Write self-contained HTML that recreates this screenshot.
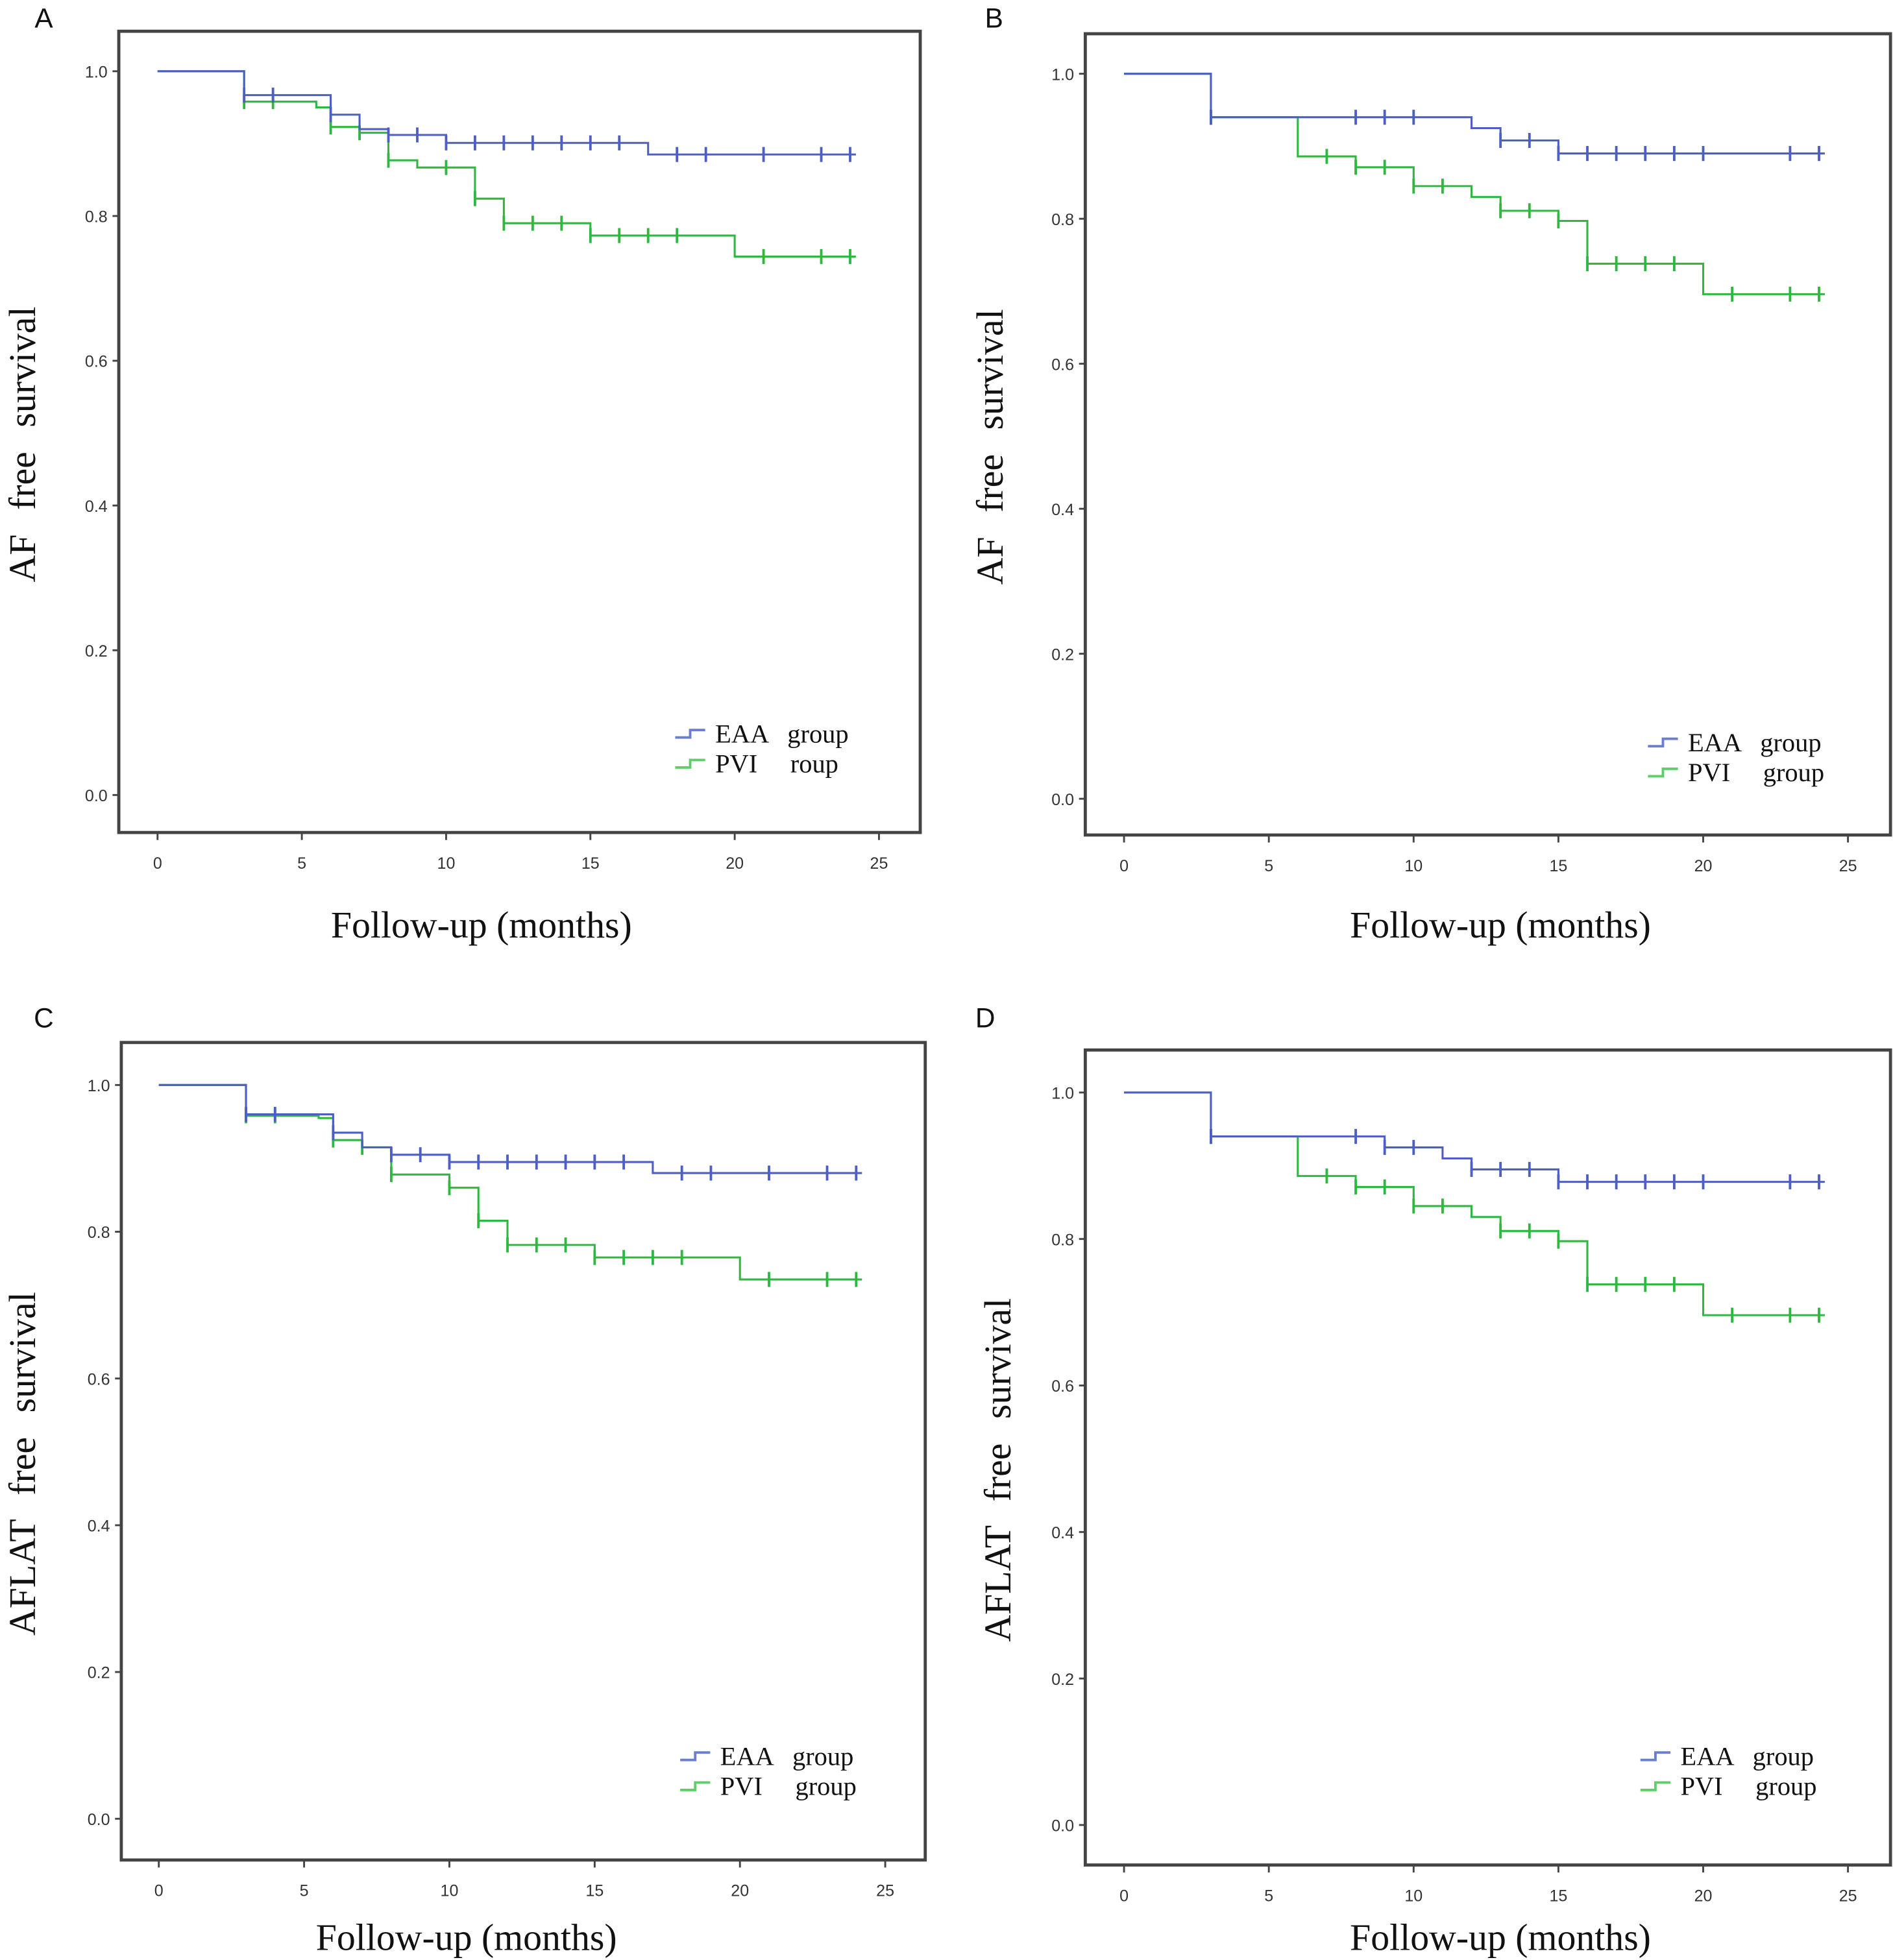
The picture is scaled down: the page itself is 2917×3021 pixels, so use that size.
<!DOCTYPE html>
<html><head><meta charset="utf-8">
<style>
html,body{margin:0;padding:0;background:#fff;}
svg{display:block;}
.tick{font-family:"Liberation Sans",sans-serif;font-size:13px;fill:#333;}
.lab{font-family:"Liberation Serif",serif;font-size:30px;fill:#111;}
.ylab{font-family:"Liberation Serif",serif;font-size:30px;fill:#111;word-spacing:12px;}
.leg{font-family:"Liberation Serif",serif;font-size:21px;fill:#111;}
.pl{font-family:"Liberation Sans",sans-serif;font-size:22px;fill:#111;}
</style></head>
<body>
<svg id="fig" width="2917" height="3021" viewBox="0 0 1514 1568" xmlns="http://www.w3.org/2000/svg"></svg>
<script>
// ---- data ----
const panelIds = ["A","B","C","D"];
const yTitles = ["AF  free  survival","AF  free  survival","AFLAT  free  survival","AFLAT  free  survival"];
const xTicks = [0,5,10,15,20,25];
const yTicks = [0.0,0.2,0.4,0.6,0.8,1.0];
const yTickLabels = ["0.0","0.2","0.4","0.6","0.8","1.0"];
const pviLegend = ["PVI     roup","PVI     group","PVI     group","PVI     group"];
// EAA step times/values
const eaaT = [[0,3,6,7,8,10,17],[0,3,12,13,15],[0,3,6,7,8,10,17],[0,3,9,11,12,15]];
const eaaS = [[1,0.967,0.94,0.92,0.912,0.901,0.885],[1,0.94,0.925,0.908,0.89],[1,0.96,0.935,0.915,0.905,0.895,0.88],[1,0.94,0.925,0.91,0.895,0.878]];
const eaaC = [[3,4,6,8,9,10,11,12,13,14,15,16,18,19,21,23,24],[3,8,9,10,13,14,15,16,17,18,19,20,23,24],[3,4,6,8,9,10,11,12,13,14,15,16,18,19,21,23,24],[3,8,9,10,12,13,14,15,16,17,18,19,20,23,24]];
const pviT = [[0,3,5.5,6,7,8,9,11,12,15,20],[0,3,6,8,10,12,13,15,16,20],[0,3,5.5,6,7,8,10,11,12,15,20],[0,3,6,8,10,12,13,15,16,20]];
const pviS = [[1,0.958,0.95,0.923,0.915,0.877,0.867,0.824,0.79,0.773,0.744],[1,0.94,0.886,0.871,0.845,0.83,0.811,0.797,0.738,0.696],[1,0.958,0.955,0.925,0.915,0.878,0.86,0.815,0.782,0.765,0.735],[1,0.94,0.886,0.871,0.845,0.83,0.811,0.797,0.738,0.696]];
const pviC = [[3,4,6,7,8,10,11,12,13,14,15,16,17,18,21,23,24],[3,7,8,9,10,11,13,14,15,16,17,18,19,21,23,24],[3,4,6,7,8,10,11,12,13,14,15,16,17,18,21,23,24],[3,7,8,9,10,11,13,14,15,16,17,18,19,21,23,24]];
const endT = 24.2;
// ---- layout ----
const frames=[{l:95,t:25,r:736,b:666,x0:126,x25:703,y1:57,y0:636,lx:35,ly:22,yt:28,xt:385,xty:750,lgx:540,lgy:588},
{l:868,t:27,r:1512,b:668,x0:899,x25:1478,y1:59,y0:639,lx:795,ly:22,yt:802,xt:1200,xty:750,lgx:1318,lgy:595},
{l:97,t:834,r:740,b:1488,x0:127,x25:708,y1:868,y0:1455,lx:35,ly:822,yt:28,xt:373,xty:1560,lgx:544,lgy:1406},
{l:868,t:840,r:1512,b:1492,x0:899,x25:1478,y1:874,y0:1460,lx:788,ly:822,yt:808,xt:1200,xty:1560,lgx:1312,lgy:1406}];
const NS="http://www.w3.org/2000/svg";
const svg=document.getElementById('fig');
function mk(tag,attrs,parent,text){const e=document.createElementNS(NS,tag);for(const k in attrs)e.setAttribute(k,attrs[k]);if(text!==undefined)e.textContent=text;(parent||svg).appendChild(e);return e;}
function stepPath(ts,ss,X,Y){let d="M"+X(ts[0])+","+Y(ss[0]);for(let i=1;i<ts.length;i++){d+=" H"+X(ts[i])+" V"+Y(ss[i]);}d+=" H"+X(endT);return d;}
function survAt(ts,ss,t){let v=ss[0];for(let i=0;i<ts.length;i++){if(ts[i]<=t)v=ss[i];}return v;}
panelIds.forEach((id,p)=>{
  const f=frames[p];
  const X=t=>f.x0+(f.x25-f.x0)*t/25;
  const Y=s=>f.y0-(f.y0-f.y1)*s;
  const g=mk('g',{});
  
  
  const lt=mk('text',{x:f.lx,y:f.ly,'text-anchor':'middle',class:'pl'},g,id);
  
  
  const fr=mk('rect',{x:f.l,y:f.t,width:f.r-f.l,height:f.b-f.t,fill:'none',stroke:'#444','stroke-width':2.5},g);
  
  
  yTicks.forEach((v,i)=>{
    const tl=mk('line',{x1:f.l,x2:f.l-5,y1:Y(v),y2:Y(v),stroke:'#444','stroke-width':1.5},g);
    
    
    const tx=mk('text',{x:f.l-9,y:Y(v)+5,'text-anchor':'end',class:'tick'},g,yTickLabels[i]);
    
    
  });
  xTicks.forEach(v=>{
    const tl=mk('line',{x1:X(v),x2:X(v),y1:f.b,y2:f.b+6,stroke:'#444','stroke-width':1.5},g);
    
    
    const tx=mk('text',{x:X(v),y:f.b+29,'text-anchor':'middle',class:'tick'},g,String(v));
    
    
  });
  const xt=mk('text',{x:f.xt,y:f.xty,'text-anchor':'middle',class:'lab'},g,'Follow-up (months)');
  
  
  const cy=(f.t+f.b)/2+10;
  const yt=mk('text',{x:f.yt,y:cy,'text-anchor':'middle',class:'ylab',transform:'rotate(-90 '+f.yt+' '+cy+')'},g,yTitles[p]);
  
  
  const series=[{t:eaaT[p],s:eaaS[p],c:eaaC[p],col:'#4d5fc4',n:'eaa'},{t:pviT[p],s:pviS[p],c:pviC[p],col:'#2fb840',n:'pvi'}];
  [series[1],series[0]].forEach(se=>{
    const pa=mk('path',{d:stepPath(se.t,se.s,X,Y),fill:'none',stroke:se.col,'stroke-width':1.6},g);
    
    
    se.c.forEach(ct=>{
      const yv=Y(survAt(se.t,se.s,ct));
      const cm=mk('line',{x1:X(ct),x2:X(ct),y1:yv-6,y2:yv+6,stroke:se.col,'stroke-width':2},g);
      
      
    });
  });
  const lg=mk('g',{},g);
  
  
  [['#6a7fd0','EAA   group'],['#5fce6a',pviLegend[p]]].forEach((e,i)=>{
    const yy=f.lgy+i*24;
    const sw=mk('path',{d:'M'+f.lgx+','+(yy+2)+' h12 v-6 h12',fill:'none',stroke:e[0],'stroke-width':2},lg);
    
    
    const tx=mk('text',{x:f.lgx+32,y:yy+6,class:'leg'},lg,e[1]);
    tx.setAttribute('style','white-space:pre');
    
    
  });
});
</script>
</body></html>
